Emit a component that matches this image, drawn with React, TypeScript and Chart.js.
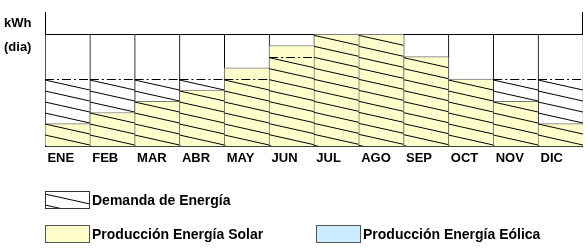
import React, { useEffect, useRef } from "react";
import { Chart, registerables } from "chart.js";

Chart.register(...registerables);

// ---- data ----
const months = ["ENE", "FEB", "MAR", "ABR", "MAY", "JUN", "JUL", "AGO", "SEP", "OCT", "NOV", "DIC"];
const capacity = [10, 10, 10, 10, 10, 10, 10, 10, 10, 10, 10, 10];
const solar = [2, 3, 4, 5, 7, 9, 10, 10, 8, 6, 4, 2];
const demand = [6, 6, 6, 6, 6, 8, 10, 10, 8, 6, 6, 6];
const legendLabels = ["Demanda de Energía", "Producción Energía Solar", "Producción Energía Eólica"];
const unitLines = ["kWh", "(dia)"];

const FONT = "'Liberation Sans', Arial, sans-serif";
const YELLOW = "#FFFFCC";
const BLUE = "#CCECFF";

function hatch(ctx: CanvasRenderingContext2D, left: number, top: number, width: number, height: number) {
  ctx.save();
  ctx.beginPath();
  ctx.rect(left, top, width, height);
  ctx.clip();
  ctx.strokeStyle = "#000";
  ctx.lineWidth = 1;
  ctx.beginPath();
  for (let y0 = top + 1; y0 < top + height + 1; y0 += 11) {
    ctx.moveTo(left, y0);
    ctx.lineTo(left + width, y0 + 10);
  }
  ctx.stroke();
  ctx.restore();
}

const customPlugin = {
  id: "custom",
  afterDatasetsDraw(chart: any) {
    const ctx: CanvasRenderingContext2D = chart.ctx;
    const meta = chart.getDatasetMeta(0);
    meta.data.forEach((el: any, i: number) => {
      const left = el.x - el.width / 2;
      const top = el.y;
      const h = el.base - el.y;
      hatch(ctx, left, top, el.width, h);
      if (demand[i] !== solar[i] && demand[i] < capacity[i]) {
        ctx.save();
        ctx.strokeStyle = "#000";
        ctx.lineWidth = 1;
        ctx.setLineDash([9, 3, 2, 3]);
        ctx.beginPath();
        const yy = Math.round(top) + 0.5;
        ctx.moveTo(left, yy);
        ctx.lineTo(left + el.width, yy);
        ctx.stroke();
        ctx.restore();
      }
    });
  },
  afterDraw(chart: any) {
    const ctx: CanvasRenderingContext2D = chart.ctx;
    ctx.save();
    ctx.fillStyle = "#000";
    ctx.font = `bold 13px ${FONT}`;
    ctx.textAlign = "left";
    ctx.textBaseline = "middle";
    ctx.fillText(unitLines[0], 4, 23);
    ctx.fillText(unitLines[1], 4, 47);

    ctx.font = `bold 14px ${FONT}`;
    // legend item 1: hatched box
    ctx.fillStyle = "#fff";
    ctx.fillRect(45, 191, 45, 18);
    hatch(ctx, 45, 193, 45, 16);
    ctx.strokeStyle = "#333";
    ctx.lineWidth = 1;
    ctx.strokeRect(45.5, 191.5, 44, 17);
    ctx.fillStyle = "#000";
    ctx.fillText(legendLabels[0], 92, 201);

    // legend item 2: solar
    ctx.fillStyle = YELLOW;
    ctx.fillRect(45, 225, 45, 18);
    ctx.strokeStyle = "#555";
    ctx.strokeRect(45.5, 225.5, 44, 17);
    ctx.fillStyle = "#000";
    ctx.fillText(legendLabels[1], 92, 235);

    // legend item 3: eolica
    ctx.fillStyle = BLUE;
    ctx.fillRect(316, 225, 45, 18);
    ctx.strokeStyle = "#555";
    ctx.strokeRect(316.5, 225.5, 44, 17);
    ctx.fillStyle = "#000";
    ctx.fillText(legendLabels[2], 363, 235);
    ctx.restore();
  },
};

export default function App() {
  const ref = useRef<HTMLCanvasElement | null>(null);

  useEffect(() => {
    if (!ref.current) return;
    const chart = new Chart(ref.current, {
      type: "bar",
      data: {
        labels: months,
        datasets: [
          {
            label: legendLabels[0],
            data: demand,
            backgroundColor: "rgba(0,0,0,0)",
            borderWidth: 0,
            grouped: false,
            barPercentage: 1,
            categoryPercentage: 1,
          } as any,
          {
            label: legendLabels[1],
            data: solar,
            backgroundColor: YELLOW,
            borderColor: "#7a7a7a",
            borderWidth: { top: 1, left: 1, right: 0, bottom: 0 },
            borderSkipped: false,
            grouped: false,
            barPercentage: 1,
            categoryPercentage: 1,
          } as any,
          {
            label: "capacidad",
            data: capacity,
            backgroundColor: "#FFFFFF",
            borderColor: "#000",
            borderWidth: { top: 1, left: 1, right: 0, bottom: 0 },
            borderSkipped: false,
            grouped: false,
            barPercentage: 1,
            categoryPercentage: 1,
          } as any,
        ],
      },
      options: {
        responsive: false,
        animation: false,
        devicePixelRatio: 1,
        layout: { padding: { top: 12, left: 0, right: 0, bottom: 0 } },
        plugins: { legend: { display: false }, tooltip: { enabled: false } },
        scales: {
          x: {
            grid: { display: false, drawTicks: false },
            border: { display: true, color: "#404040" },
            ticks: {
              autoSkip: false,
              maxRotation: 0,
              minRotation: 0,
              align: "start",
              labelOffset: -20,
              padding: 5,
              color: "#000",
              font: { family: FONT, size: 13, weight: "bold" },
            },
            afterFit: (s: any) => {
              s.height = 104;
            },
          },
          y: {
            min: 0,
            max: 12,
            grid: { display: false, drawTicks: false },
            border: { display: true, color: "#000" },
            ticks: { display: false },
            afterFit: (s: any) => {
              s.width = 45;
            },
          },
          y2: {
            position: "right",
            min: 0,
            max: 12,
            grid: { display: false, drawTicks: false },
            border: { display: true, color: "#000" },
            ticks: { display: false },
            afterFit: (s: any) => {
              s.width = 3;
            },
          },
        },
      } as any,
      plugins: [customPlugin],
    });
    return () => chart.destroy();
  }, []);

  return (
    <div style={{ position: "absolute", left: 0, top: 0, width: 588, height: 250, background: "#fff" }}>
      <canvas ref={ref} width={588} height={250} style={{ display: "block" }} />
    </div>
  );
}
